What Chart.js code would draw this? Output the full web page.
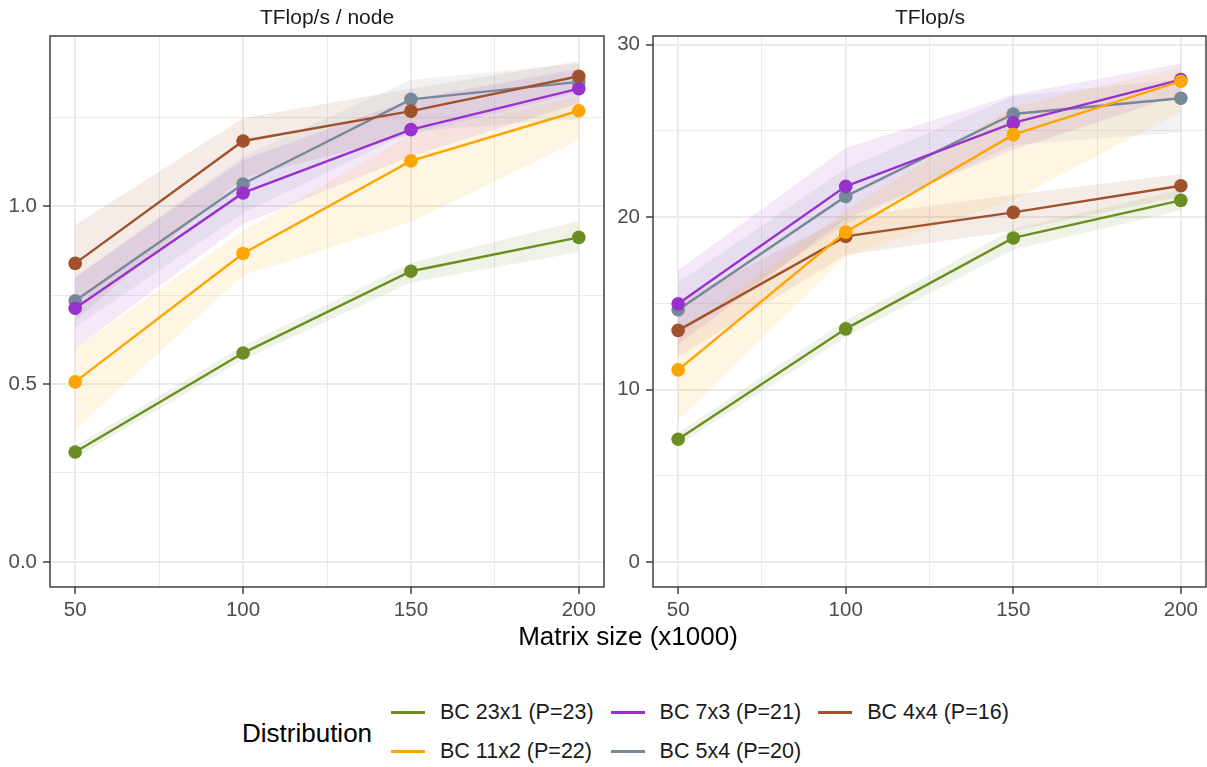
<!DOCTYPE html>
<html>
<head>
<meta charset="utf-8">
<script src="https://cdn.jsdelivr.net/npm/chart.js@4.4.0/dist/chart.umd.min.js"></script>
<style>
  body { margin: 0; background: #fff; font-family: "Liberation Sans", Arial, sans-serif; }
  #wrap { position: relative; width: 1207px; height: 767px; overflow: hidden; }
  canvas { position: absolute; top: 0; }
  .strip { position: absolute; top: 6px; font-size: 21px; line-height: 21px; color: #1a1a1a; transform: translateX(-50%); white-space: nowrap; }
  #xtitle { position: absolute; left: 628px; top: 623px; font-size: 26px; line-height: 26px; color: #000; transform: translateX(-50%); white-space: nowrap; }
  #legtitle { position: absolute; left: 242px; top: 720px; font-size: 26px; line-height: 26px; color: #000; }
  #legend { position: absolute; left: 391px; top: 693px; display: grid; grid-template-rows: 39px 39px; grid-auto-flow: column; column-gap: 17px; }
  .item { display: flex; align-items: center; font-size: 21.5px; color: #1a1a1a; white-space: nowrap; }
  .key { width: 34px; height: 3px; margin-right: 15px; }
</style>
</head>
<body>
<div id="wrap">
  <canvas id="left" width="610" height="625" style="left:0"></canvas>
  <canvas id="right" width="597" height="625" style="left:610px"></canvas>
  <div class="strip" style="left:327px">TFlop/s / node</div>
  <div class="strip" style="left:930px">TFlop/s</div>
  <div id="xtitle">Matrix size (x1000)</div>
  <div id="legtitle">Distribution</div>
  <div id="legend"></div>
</div>
<script>
// matrix size (x1000)
var sizes = [50, 100, 150, 200];
var seriesNames = ['BC 23x1 (P=23)', 'BC 11x2 (P=22)', 'BC 7x3 (P=21)', 'BC 5x4 (P=20)', 'BC 4x4 (P=16)'];
var seriesColors = ['#6B8E23', '#FFA500', '#9932CC', '#778899', '#A0522D'];

// TFlop/s / node
var nodeBC23x1 = [0.309, 0.587, 0.817, 0.912];
var nodeBC11x2 = [0.506, 0.867, 1.127, 1.268];
var nodeBC7x3 = [0.713, 1.037, 1.215, 1.330];
var nodeBC5x4 = [0.734, 1.062, 1.300, 1.349];
var nodeBC4x4 = [0.839, 1.183, 1.267, 1.365];
// ribbons (low / high)
var nodeLoBC23x1 = [0.292, 0.568, 0.785, 0.870];
var nodeHiBC23x1 = [0.326, 0.607, 0.840, 0.958];
var nodeLoBC11x2 = [0.372, 0.806, 0.955, 1.185];
var nodeHiBC11x2 = [0.600, 0.930, 1.200, 1.310];
var nodeLoBC7x3 = [0.600, 0.950, 1.140, 1.290];
var nodeHiBC7x3 = [0.800, 1.130, 1.300, 1.385];
var nodeLoBC5x4 = [0.660, 0.980, 1.210, 1.245];
var nodeHiBC5x4 = [0.800, 1.140, 1.355, 1.400];
var nodeLoBC4x4 = [0.680, 1.080, 1.200, 1.320];
var nodeHiBC4x4 = [0.947, 1.247, 1.330, 1.407];

// TFlop/s
var totBC23x1 = [7.12, 13.52, 18.79, 20.97];
var totBC11x2 = [11.14, 19.13, 24.78, 27.88];
var totBC7x3 = [14.97, 21.78, 25.46, 27.97];
var totBC5x4 = [14.63, 21.20, 25.98, 26.89];
var totBC4x4 = [13.43, 18.88, 20.27, 21.82];
var totLoBC23x1 = [6.75, 13.05, 18.10, 20.40];
var totHiBC23x1 = [7.50, 14.00, 19.30, 21.60];
var totLoBC11x2 = [8.20, 17.70, 21.00, 26.10];
var totHiBC11x2 = [13.20, 20.40, 26.40, 28.70];
var totLoBC7x3 = [12.60, 19.90, 23.90, 27.10];
var totHiBC7x3 = [16.90, 24.00, 27.10, 28.90];
var totLoBC5x4 = [13.20, 19.60, 24.20, 24.90];
var totHiBC5x4 = [16.20, 22.80, 27.00, 28.00];
var totLoBC4x4 = [11.90, 17.80, 19.20, 21.20];
var totHiBC4x4 = [15.10, 20.00, 21.30, 22.50];

// tick labels
var xMajor = [50, 100, 150, 200];
var xMinor = [75, 125, 175];
var nodeMajor = [0, 0.5, 1.0];
var nodeMinor = [0.25, 0.75, 1.25];
var totMajor = [0, 10, 20, 30];
var totMinor = [5, 15, 25];

Chart.defaults.font.family = '"Liberation Sans", Arial, sans-serif';

// points drawn on top: orange, brown, purple, gray, green
var drawOrder = [5, 1, 3, 4, 2];

function pts(vals) {
    return sizes.map(function (s, i) { return {x: s, y: vals[i]}; });
}

function rgba(hex, a) {
    var n = parseInt(hex.slice(1), 16);
    return 'rgba(' + (n >> 16) + ',' + ((n >> 8) & 255) + ',' + (n & 255) + ',' + a + ')';
}

function isIn(v, list) {
    return list.some(function (m) { return Math.abs(m - v) < 1e-9; });
}

function buildDatasets(values, lows, highs) {
    var ds = [];
    values.forEach(function (vals, i) {
        var lowIdx = ds.length;
        ds.push({ data: pts(lows[i]), borderWidth: 0, pointRadius: 0, fill: false, order: 20 });
        ds.push({ data: pts(highs[i]), borderWidth: 0, pointRadius: 0, fill: {target: lowIdx},
                  backgroundColor: rgba(seriesColors[i], 0.11), order: 20 });
    });
    values.forEach(function (vals, i) {
        ds.push({ label: seriesNames[i], data: pts(vals), borderColor: seriesColors[i],
                  backgroundColor: seriesColors[i], borderWidth: 2.4, pointRadius: 6.8,
                  pointBorderWidth: 0, fill: false, order: drawOrder[i] });
    });
    return ds;
}

var panelBorder = {
    id: 'panelBorder',
    afterDraw: function (chart) {
        var a = chart.chartArea, ctx = chart.ctx;
        ctx.save();
        ctx.strokeStyle = '#333333';
        ctx.lineWidth = 1.4;
        ctx.strokeRect(a.left, a.top, a.right - a.left, a.bottom - a.top);
        ctx.restore();
    }
};

function gridOpts(major) {
    return {
        color: '#EBEBEB',
        lineWidth: function (c) { return c.tick && isIn(c.tick.value, major) ? 2 : 1; },
        tickColor: function (c) { return c.tick && isIn(c.tick.value, major) ? '#333333' : 'rgba(0,0,0,0)'; },
        tickLength: 7,
        tickWidth: 1.4
    };
}

function makeChart(id, values, lows, highs, yMin, yMax, yMajor, yMinor, yFmt, yWidth, padRight) {
    return new Chart(document.getElementById(id), {
        type: 'line',
        data: { datasets: buildDatasets(values, lows, highs) },
        options: {
            responsive: false,
            animation: false,
            layout: { autoPadding: false, padding: { top: 36, right: padRight, left: 0, bottom: 0 } },
            plugins: { legend: { display: false }, tooltip: { enabled: false } },
            scales: {
                x: {
                    type: 'linear', min: 42.5, max: 207.5,
                    afterBuildTicks: function (s) {
                        s.ticks = xMajor.concat(xMinor).sort(function (a, b) { return a - b; })
                            .map(function (v) { return {value: v}; });
                    },
                    afterFit: function (s) { s.height = 38; s.paddingLeft = 0; s.paddingRight = 0; },
                    border: { display: false },
                    grid: gridOpts(xMajor),
                    ticks: {
                        autoSkip: false, maxRotation: 0, padding: 4, color: '#4D4D4D', font: { size: 20.5 },
                        callback: function (v) { return isIn(v, xMajor) ? String(v) : ''; }
                    }
                },
                y: {
                    type: 'linear', min: yMin, max: yMax,
                    afterBuildTicks: function (s) {
                        s.ticks = yMajor.concat(yMinor).sort(function (a, b) { return a - b; })
                            .map(function (v) { return {value: v}; });
                    },
                    afterFit: function (s) { s.width = yWidth; s.paddingTop = 0; s.paddingBottom = 0; },
                    border: { display: false },
                    grid: gridOpts(yMajor),
                    ticks: {
                        autoSkip: false, padding: 6, color: '#4D4D4D', font: { size: 20.5 },
                        callback: function (v) { return isIn(v, yMajor) ? yFmt(v) : ''; }
                    }
                }
            }
        },
        plugins: [panelBorder]
    });
}

makeChart('left',
    [nodeBC23x1, nodeBC11x2, nodeBC7x3, nodeBC5x4, nodeBC4x4],
    [nodeLoBC23x1, nodeLoBC11x2, nodeLoBC7x3, nodeLoBC5x4, nodeLoBC4x4],
    [nodeHiBC23x1, nodeHiBC11x2, nodeHiBC7x3, nodeHiBC5x4, nodeHiBC4x4],
    -0.0704, 1.478, nodeMajor, nodeMinor, function (v) { return v.toFixed(1); }, 50, 6);

makeChart('right',
    [totBC23x1, totBC11x2, totBC7x3, totBC5x4, totBC4x4],
    [totLoBC23x1, totLoBC11x2, totLoBC7x3, totLoBC5x4, totLoBC4x4],
    [totHiBC23x1, totHiBC11x2, totHiBC7x3, totHiBC5x4, totHiBC4x4],
    -1.45, 30.5, totMajor, totMinor, function (v) { return String(v); }, 43, 1);

// legend, filled column by column like the original
var legend = document.getElementById('legend');
seriesNames.forEach(function (name, i) {
    var item = document.createElement('div');
    item.className = 'item';
    var key = document.createElement('span');
    key.className = 'key';
    key.style.background = seriesColors[i];
    var label = document.createElement('span');
    label.textContent = name;
    item.appendChild(key);
    item.appendChild(label);
    legend.appendChild(item);
});
</script>
</body>
</html>
